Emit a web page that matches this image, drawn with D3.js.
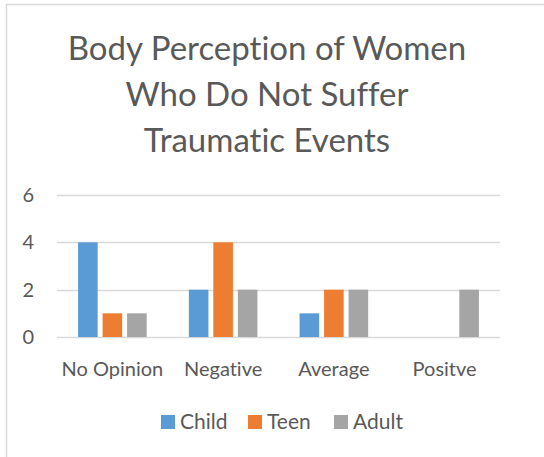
<!DOCTYPE html>
<html>
<head>
<style>
body { margin: 0; background: #fff; }
svg text { font-family: Lato, "Open Sans", sans-serif; fill: #595959; font-variant-ligatures: none; }
</style>
</head>
<body>
<div id="container"></div>
<script src="https://d3js.org/d3.v7.min.js"></script>
<script>
const width = 544, height = 457;

const categories = ['No Opinion', 'Negative', 'Average', 'Positve'];
const series = ['Child', 'Teen', 'Adult'];
const child = [4, 2, 1, 0];
const teen = [1, 4, 2, 0];
const adult = [1, 2, 2, 2];
const yTicks = [0, 2, 4, 6];
const titleLines = ['Body Perception of Women', 'Who Do Not Suffer', 'Traumatic Events'];
const colors = ['#5b9bd5', '#ed7d31', '#a5a5a5'];

const values = [child, teen, adult];
const rows = categories.map((c, i) => ({cat: c, vals: series.map((s, j) => ({s: s, v: values[j][i]}))}));

const svg = d3.select('#container').append('svg')
    .attr('width', width).attr('height', height);

// chart border
svg.append('rect')
    .attr('x', 6.5).attr('y', 4.5)
    .attr('width', width + 10).attr('height', height + 10)
    .attr('fill', 'none').attr('stroke', '#d9d9d9').attr('stroke-width', 1.5);

// title
svg.append('g').selectAll('text')
    .data(titleLines)
  .enter().append('text')
    .attr('x', 267).attr('y', (d, i) => 60 + i * 46)
    .attr('text-anchor', 'middle')
    .style('font-size', '33px')
    .text(d => d);

const x = d3.scaleBand().domain(categories).range([57, 500]);
const xs = d3.scaleBand().domain(series).range([0, x.bandwidth()]).paddingInner(0.2).paddingOuter(0.86);
const y = d3.scaleLinear().domain([0, 6]).range([337, 195]);

// gridlines
svg.append('g').selectAll('line')
    .data(yTicks)
  .enter().append('line')
    .attr('x1', 57).attr('x2', 500)
    .attr('y1', d => Math.round(y(d)) + 0.5).attr('y2', d => Math.round(y(d)) + 0.5)
    .attr('stroke', '#d9d9d9').attr('stroke-width', 1.5);

// y labels
svg.append('g').selectAll('text')
    .data(yTicks)
  .enter().append('text')
    .attr('x', 34).attr('y', d => y(d) + 7)
    .attr('text-anchor', 'end')
    .style('font-size', '20px')
    .text(d => d);

// bars
const groups = svg.append('g').selectAll('g')
    .data(rows)
  .enter().append('g')
    .attr('transform', d => `translate(${x(d.cat)},0)`);

groups.selectAll('rect')
    .data(d => d.vals)
  .enter().append('rect')
    .attr('x', d => xs(d.s))
    .attr('width', xs.bandwidth())
    .attr('y', d => y(d.v))
    .attr('height', d => y(0) - y(d.v))
    .attr('fill', (d, i) => colors[i]);

// x labels
svg.append('g').selectAll('text')
    .data(categories)
  .enter().append('text')
    .attr('x', d => x(d) + x.bandwidth() / 2)
    .attr('y', 376)
    .attr('text-anchor', 'middle')
    .style('font-size', '20px')
    .text(d => d);

// legend
const legendX = [161, 248, 334];
const legend = svg.append('g').selectAll('g')
    .data(series)
  .enter().append('g')
    .attr('transform', (d, i) => `translate(${legendX[i]},415)`);
legend.append('rect')
    .attr('width', 14).attr('height', 14)
    .attr('fill', (d, i) => colors[i]);
legend.append('text')
    .attr('x', 19).attr('y', 14)
    .style('font-size', '21px')
    .text(d => d);
</script>
</body>
</html>
